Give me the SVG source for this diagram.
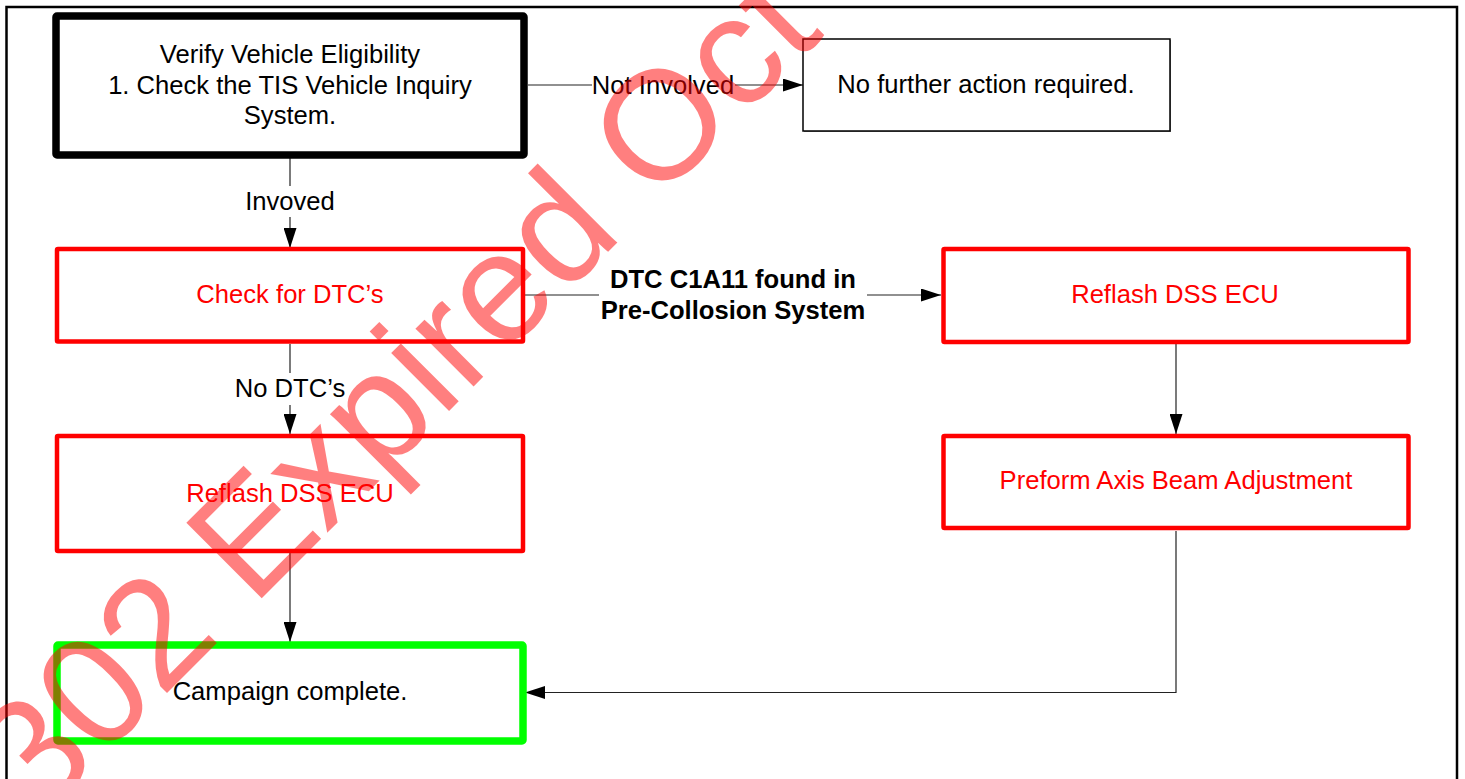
<svg xmlns="http://www.w3.org/2000/svg" width="1465" height="779" viewBox="0 0 1465 779">
<defs>
<marker id="arr" markerWidth="20" markerHeight="13" refX="20" refY="6.5" orient="auto" markerUnits="userSpaceOnUse">
<path d="M0,0 L20,6.5 L0,13 Z" fill="#000"/>
</marker>
<style>
text{font-family:"Liberation Sans",Arial,sans-serif;font-size:25.6px;text-anchor:middle;fill:#000}
.red{fill:#ff0000}
.bold{font-weight:bold}
.box{fill:#fff}
.conn{fill:none;stroke:#222;stroke-width:1.2}
.lbl{fill:#fff;stroke:none}
</style>
</defs>
<rect width="1465" height="779" fill="#fff"/>
<path d="M6.5,779 V7 H1457 V779" fill="none" stroke="#000" stroke-width="2.5"/>

<g id="connectors">
<path class="conn" d="M528,85 H803" marker-end="url(#arr)"/>
<rect class="lbl" x="592" y="70" width="143" height="28"/>
<text x="663" y="93.5">Not Involved</text>
<path class="conn" d="M290,158 V248" marker-end="url(#arr)"/>
<rect class="lbl" x="240" y="186" width="100" height="31"/>
<text x="290" y="210">Invoved</text>
<path class="conn" d="M525,295 H941" marker-end="url(#arr)"/>
<rect class="lbl" x="599" y="262" width="268" height="66"/>
<text class="bold" x="733" y="288">DTC C1A11 found in</text>
<text class="bold" x="733" y="319">Pre-Collosion System</text>
<path class="conn" d="M290,344 V434" marker-end="url(#arr)"/>
<rect class="lbl" x="230" y="373" width="120" height="32"/>
<text x="290" y="397">No DTC’s</text>
<path class="conn" d="M1176,344 V434" marker-end="url(#arr)"/>
<path class="conn" d="M290,553 V642" marker-end="url(#arr)"/>
<path class="conn" d="M1176,531 V692.5 H525" marker-end="url(#arr)"/>
</g>

<g id="n-verify">
<rect class="box" x="56" y="16" width="468" height="139" stroke="#000" stroke-width="7.5" rx="1"/>
<text x="290" y="63">Verify Vehicle Eligibility</text>
<text x="290" y="93.5">1. Check the TIS Vehicle Inquiry</text>
<text x="290" y="124">System.</text>
</g>

<g id="n-nofurther">
<rect x="804" y="40" width="367" height="92" fill="#888"/>
<rect class="box" x="803" y="39" width="367" height="92" stroke="#000" stroke-width="1.5"/>
<text x="986" y="93">No further action required.</text>
</g>

<g id="n-checkdtc">
<rect class="box" x="57" y="249" width="466" height="92.5" stroke="#ff0000" stroke-width="4.5" rx="1"/>
<text class="red" x="290" y="303">Check for DTC’s</text>
</g>

<g id="n-reflash-right">
<rect class="box" x="943.5" y="249" width="465" height="93" stroke="#ff0000" stroke-width="4.5" rx="1"/>
<text class="red" x="1175" y="303">Reflash DSS ECU</text>
</g>

<g id="n-preform">
<rect class="box" x="943.5" y="436" width="465" height="92" stroke="#ff0000" stroke-width="4.5" rx="1"/>
<text class="red" x="1176" y="489">Preform Axis Beam Adjustment</text>
</g>

<g id="n-reflash-left">
<rect class="box" x="57" y="436" width="466" height="115" stroke="#ff0000" stroke-width="4.5" rx="1"/>
<text class="red" x="290" y="502">Reflash DSS ECU</text>
</g>

<g id="n-complete">
<rect class="box" x="57" y="645" width="466" height="96" stroke="#00ff00" stroke-width="7.5" rx="1"/>
<text x="290" y="700">Campaign complete.</text>
</g>

<text transform="translate(39.5,820.5) rotate(-45)" style="font-size:155px;text-anchor:start;fill:#ff0000;fill-opacity:0.5">302 Expired Oct</text>
</svg>
